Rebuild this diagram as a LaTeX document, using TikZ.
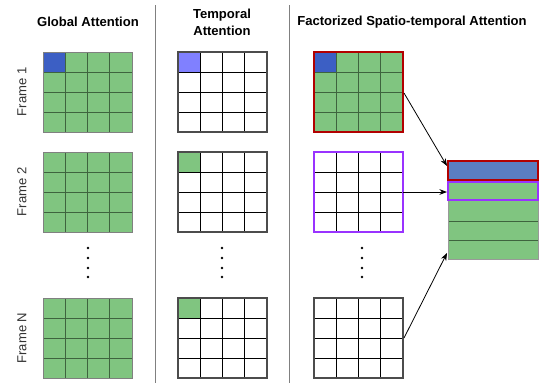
\documentclass[tikz,border=0pt]{standalone}
\usepackage{fontspec}
\setmainfont{Liberation Sans}
\usetikzlibrary{arrows.meta, positioning}
\definecolor{cellgreen}{RGB}{128,197,128}
\definecolor{greenline}{RGB}{62,100,62}
\definecolor{cellblue}{RGB}{60,95,196}
\definecolor{lightblue}{RGB}{128,128,255}
\definecolor{stackblue}{RGB}{91,126,193}
\definecolor{darkred}{RGB}{178,0,0}
\definecolor{violetline}{RGB}{153,51,255}
\tikzstyle{every node}=[font=\fontsize{9.8}{12.5}\selectfont]
\tikzstyle{title}=[font=\bfseries\fontsize{9.8}{12.5}\selectfont, align=center]
\tikzstyle{glines}=[greenline, line width=0.7pt]
\tikzstyle{wlines}=[black, line width=0.7pt]

\begin{document}
\begin{tikzpicture}[x=0.75pt, y=-0.75pt]
	\useasboundingbox (0,0) rectangle (546,383);
	
	% separators
	\draw[gray, line width=0.7pt] (155,5) -- (155,383);
	\draw[gray, line width=0.7pt] (289,5) -- (289,383);
	
	% titles
	\node[title] (tglobal) at (88,22) {Global Attention};
	\node[title] (ttemporal) at (222,22) {Temporal\\Attention};
	\node[title] (tfactor) at (412,22) {Factorized Spatio-temporal Attention};
	
	\node[rotate=90, black!80] (frame1) at (22,92) {Frame 1};
	\node[rotate=90, black!80] (frame2) at (22,192) {Frame 2};
	\node[rotate=90, black!80] (frameN) at (22,338) {Frame N};
	
	% global attention grids
	\foreach \y in {52,152,298} {
		\fill[cellgreen] (43,\y) rectangle ++(89,80);
	}
	\fill[cellblue] (43,52) rectangle ++(22.25,20);
	\foreach \y in {52,152,298} {
		\foreach \i in {1,2,3} {
			\draw[glines] ({43+22.25*\i},\y) -- ++(0,80);
			\draw[glines] (43,{\y+20*\i}) -- ++(89,0);
		}
		\draw[gray, line width=0.7pt] (43,\y) rectangle ++(89,80);
	}
	
	% temporal attention grids
	\fill[lightblue] (178,52) rectangle ++(22.25,20);
	\fill[cellgreen] (178,152) rectangle ++(22.25,20);
	\fill[cellgreen] (178,298) rectangle ++(22.25,20);
	\foreach \y in {52,152,298} {
		\foreach \i in {1,2,3} {
			\draw[wlines] ({178+22.25*\i},\y) -- ++(0,80);
			\draw[wlines] (178,{\y+20*\i}) -- ++(89,0);
		}
		\draw[black!70, line width=0.8pt] (178,\y) rectangle ++(89,80);
	}
	
	% factorized grids
	\fill[cellgreen] (314,52) rectangle ++(89,80);
	\fill[cellblue] (314,52) rectangle ++(22.25,20);
	\foreach \i in {1,2,3} {
		\draw[glines] ({314+22.25*\i},52) -- ++(0,80);
		\draw[glines] (314,{52+20*\i}) -- ++(89,0);
	}
	\foreach \y in {152,298} {
		\foreach \i in {1,2,3} {
			\draw[wlines] ({314+22.25*\i},\y) -- ++(0,80);
			\draw[wlines] (314,{\y+20*\i}) -- ++(89,0);
		}
	}
	\draw[black!70, line width=0.8pt] (314,298) rectangle ++(89,80);
	\draw[darkred, line width=1.6pt] (314,52) rectangle ++(89,80);
	\draw[violetline, line width=1.6pt] (314,152) rectangle ++(89,80);
	
	% dots
	\foreach \x in {88,222,362} {
		\foreach \y in {248,258,268,277} {
			\fill (\x,\y) circle[radius=1.3];
		}
	}
	
	% stacked tokens
	\fill[cellgreen] (448,161) rectangle (538,259);
	\fill[stackblue] (448,161) rectangle (538,180);
	\foreach \y in {221,240} {
		\draw[glines] (448,\y) -- (538,\y);
	}
	\draw[gray!80, line width=0.7pt] (448,161) rectangle (538,259);
	\draw[darkred, line width=1.6pt] (448,161) rectangle (538,180);
	\draw[violetline, line width=1.6pt] (448,182) rectangle (538,200);
	
	\coordinate (g1) at (404,93);
	\coordinate (g2) at (403,192);
	\coordinate (gN) at (404,338);
	\coordinate (s1) at (447,166);
	\coordinate (s2) at (447,192);
	\coordinate (sN) at (447,253);
	
	% arrows
	\draw[-Stealth, line width=0.6pt] (g1) -- (s1);
	\draw[-Stealth, line width=0.6pt] (g2) -- (s2);
	\draw[-Stealth, line width=0.6pt] (gN) -- (sN);
\end{tikzpicture}
\end{document}
